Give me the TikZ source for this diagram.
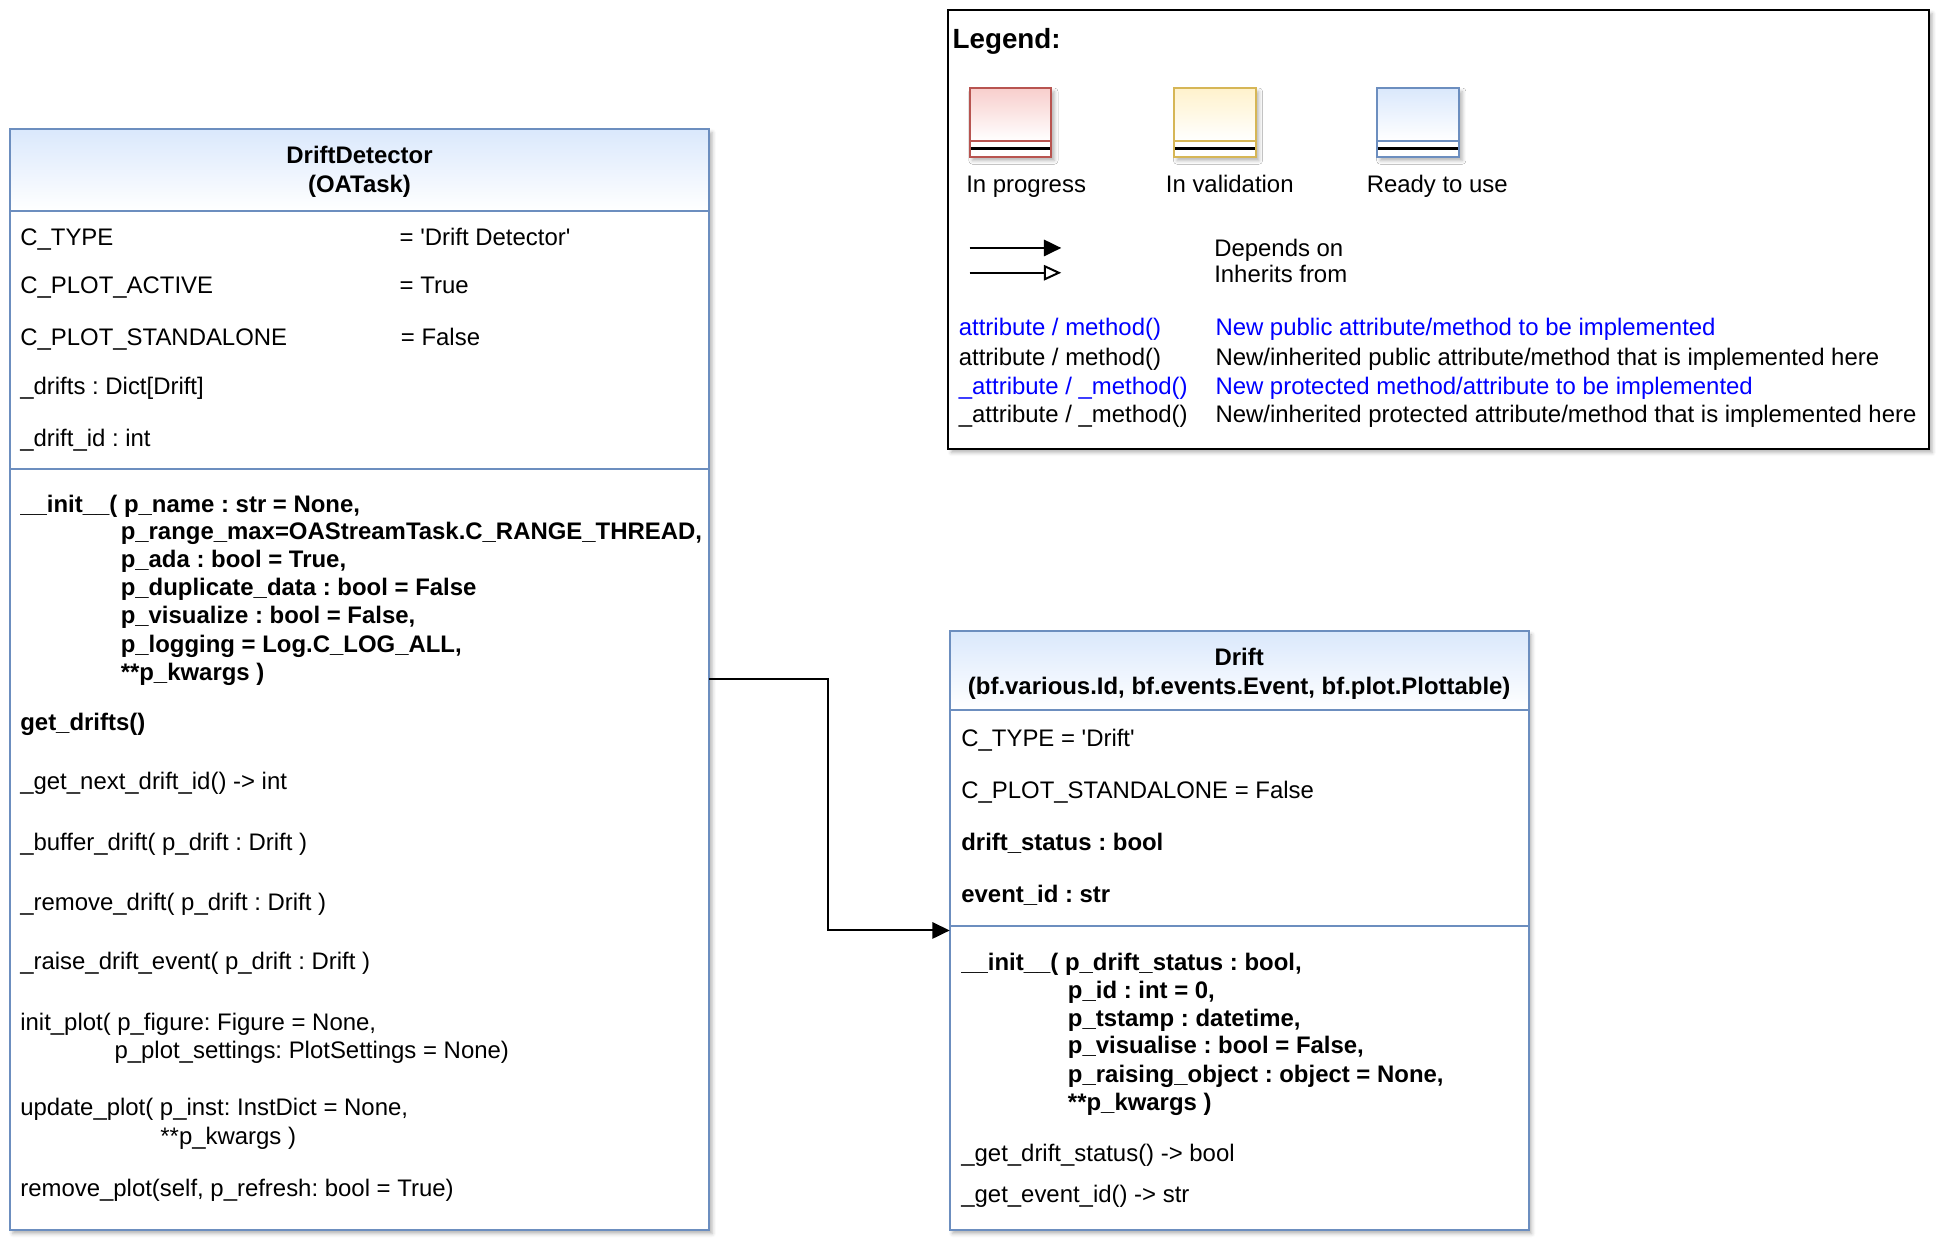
\documentclass[tikz,border=0pt]{standalone}
\usepackage{fontspec}
\setmainfont{Liberation Sans}
\usetikzlibrary{arrows.meta,shadows.blur,fit}

\definecolor{blueF}{HTML}{DAE8FC}
\definecolor{blueS}{HTML}{6C8EBF}
\definecolor{redF}{HTML}{F8CECC}
\definecolor{redS}{HTML}{B85450}
\definecolor{yelF}{HTML}{FFF2CC}
\definecolor{yelS}{HTML}{D6B656}
\definecolor{linkblue}{HTML}{0000FF}

\newcommand\txtfont{\fontsize{9.65}{11.6}\selectfont}
\newcommand\titlefont{\fontsize{11.2}{13.4}\selectfont}
\newcommand\q{\textquotesingle}
\frenchspacing

\begin{document}
\begin{tikzpicture}[x=0.5pt,y=-0.5pt,
  txt/.style={anchor=base west, inner sep=0pt, font=\txtfont},
  bold/.style={anchor=base west, inner sep=0pt, font=\txtfont\bfseries},
  ctr/.style={anchor=base, inner sep=0pt, font=\txtfont\bfseries},
  lnk/.style={txt, text=linkblue},
  boxshadow/.style={blur shadow={shadow xshift=1.2pt, shadow yshift=-1.5pt,
      shadow blur radius=1.5pt, shadow opacity=30}},
  frame/.style={inner sep=0pt, outer sep=0pt, fill=white, boxshadow},
  bluestroke/.style={draw=blueS, line width=0.8pt},
  dep/.style={draw=black, line width=0.8pt, -{Triangle[length=7pt,width=6.6pt]}},
  inh/.style={draw=black, line width=0.8pt, -{Triangle[open,length=7pt,width=6.2pt]}},
]
\useasboundingbox (0,0) rectangle (1568,1005);

% ---------------- Legend ----------------
\node[fit={(765,8)(1556,362)}, frame, draw=black, line width=0.8pt] (legend) {};
\node[anchor=base west, inner sep=0pt, font=\titlefont\bfseries] (legtitle) at (768,39) {Legend:};

% colour swatches: gradient header, separator, double line
\foreach \nm/\x/\f/\s in {red/782/redF/redS, yel/947/yelF/yelS, blu/1111/blueF/blueS}{
  \fill[white, boxshadow] (\x,71) rectangle ++(66,55.5);
  \shade[top color=\f, bottom color=white] (\x,71) rectangle ++(66,42.5);
  \draw[draw=\s, line width=0.8pt] (\x,113.5) -- ++(66,0);
  \draw[black, line width=1.2pt] (\x,120) -- ++(66,0);
  \draw[draw=\s, line width=0.8pt] (\x,71) rectangle ++(66,55.5);
}
\node[txt] (leg-prog) at (779,155) {In progress};
\node[txt] (leg-val) at (940,155) {In validation};
\node[txt] (leg-ready) at (1102,155) {Ready to use};

\coordinate (depA) at (782,200);
\coordinate (depB) at (856,200);
\coordinate (inhA) at (782,220);
\coordinate (inhB) at (856,220);
\draw[dep] (depA) -- (depB);
\draw[inh] (inhA) -- (inhB);
\node[txt] (leg-dep) at (979,207) {Depends on};
\node[txt] (leg-inh) at (979,228) {Inherits from};

\node[lnk] (leg-k1) at (773,271) {attribute / method()};
\node[txt] (leg-k2) at (773,295) {attribute / method()};
\node[lnk] (leg-k3) at (773,318) {\_attribute / \_method()};
\node[txt] (leg-k4) at (773,341) {\_attribute / \_method()};
\node[lnk] (leg-v1) at (980,271) {New public attribute/method to be implemented};
\node[txt] (leg-v2) at (980,295) {New/inherited public attribute/method that is implemented here};
\node[lnk] (leg-v3) at (980,318) {New protected method/attribute to be implemented};
\node[txt] (leg-v4) at (980,341) {New/inherited protected attribute/method that is implemented here};

% ---------------- DriftDetector ----------------
\node[fit={(8,104)(572,992)}, frame] (dd) {};
\shade[top color=blueF, bottom color=white] (8,104) rectangle (572,170);
\draw[bluestroke] (8,170) -- (572,170);
\draw[bluestroke] (8,378) -- (572,378);
\draw[bluestroke] (dd.north west) rectangle (dd.south east);

\node[ctr] (dd-name) at (290,132) {DriftDetector};
\node[ctr] (dd-base) at (290,155) {(OATask)};

\node[txt] (dd-a1) at (16,198) {C\_TYPE};
\node[txt] (dd-a1v) at (322,198) {= \q Drift Detector\q};
\node[txt] (dd-a2) at (16,237) {C\_PLOT\_ACTIVE};
\node[txt] (dd-a2v) at (322,237) {= True};
\node[txt] (dd-a3) at (16,279) {C\_PLOT\_STANDALONE};
\node[txt] (dd-a3v) at (323,279) {= False};
\node[txt] (dd-a4) at (16,318) {\_drifts : Dict[Drift]};
\node[txt] (dd-a5) at (16,360) {\_drift\_id : int};

\node[bold] (dd-m1) at (16,413) {\_\_init\_\_( p\_name : str = None,};
\node[bold] (dd-m1b) at (97,435) {p\_range\_max=OAStreamTask.C\_RANGE\_THREAD,};
\node[bold] (dd-m1c) at (97,458) {p\_ada : bool = True,};
\node[bold] (dd-m1d) at (97,480) {p\_duplicate\_data : bool = False};
\node[bold] (dd-m1e) at (97,503) {p\_visualize : bool = False,};
\node[bold] (dd-m1f) at (97,526) {p\_logging = Log.C\_LOG\_ALL,};
\node[bold] (dd-m1g) at (97,549) {**p\_kwargs )};
\node[bold] (dd-m2) at (16,589) {get\_drifts()};
\node[txt] (dd-m3) at (16,637) {\_get\_next\_drift\_id() -> int};
\node[txt] (dd-m4) at (16,686) {\_buffer\_drift( p\_drift : Drift )};
\node[txt] (dd-m5) at (16,734) {\_remove\_drift( p\_drift : Drift )};
\node[txt] (dd-m6) at (16,782) {\_raise\_drift\_event( p\_drift : Drift )};
\node[txt] (dd-m7) at (16,831) {init\_plot( p\_figure: Figure = None,};
\node[txt] (dd-m7b) at (92,854) {p\_plot\_settings: PlotSettings = None)};
\node[txt] (dd-m8) at (16,900) {update\_plot( p\_inst: InstDict = None,};
\node[txt] (dd-m8b) at (129,923) {**p\_kwargs )};
\node[txt] (dd-m9) at (16,965) {remove\_plot(self, p\_refresh: bool = True)};

% ---------------- Drift ----------------
\node[fit={(766,509)(1233,992)}, frame] (drift) {};
\shade[top color=blueF, bottom color=white] (766,509) rectangle (1233,573);
\draw[bluestroke] (766,573) -- (1233,573);
\draw[bluestroke] (766,747) -- (1233,747);
\draw[bluestroke] (drift.north west) rectangle (drift.south east);

\node[ctr] (dr-name) at (999.5,537) {Drift};
\node[ctr] (dr-base) at (999.5,560) {(bf.various.Id, bf.events.Event, bf.plot.Plottable)};

\node[txt] (dr-a1) at (775,602) {C\_TYPE = \q Drift\q};
\node[txt] (dr-a2) at (775,644) {C\_PLOT\_STANDALONE = False};
\node[bold] (dr-a3) at (775,686) {drift\_status : bool};
\node[bold] (dr-a4) at (775,728) {event\_id : str};

\node[bold] (dr-m1) at (775,783) {\_\_init\_\_( p\_drift\_status : bool,};
\node[bold] (dr-m1b) at (861,805) {p\_id : int = 0,};
\node[bold] (dr-m1c) at (861,828) {p\_tstamp : datetime,};
\node[bold] (dr-m1d) at (861,850) {p\_visualise : bool = False,};
\node[bold] (dr-m1e) at (861,873) {p\_raising\_object : object = None,};
\node[bold] (dr-m1f) at (861,896) {**p\_kwargs )};
\node[txt] (dr-m2) at (775,937) {\_get\_drift\_status() -> bool};
\node[txt] (dr-m3) at (775,970) {\_get\_event\_id() -> str};

% ---------------- dependency ----------------
\draw[dep] (dd.east) -- ++(96,0) |- (drift.west);

\end{tikzpicture}
\end{document}
